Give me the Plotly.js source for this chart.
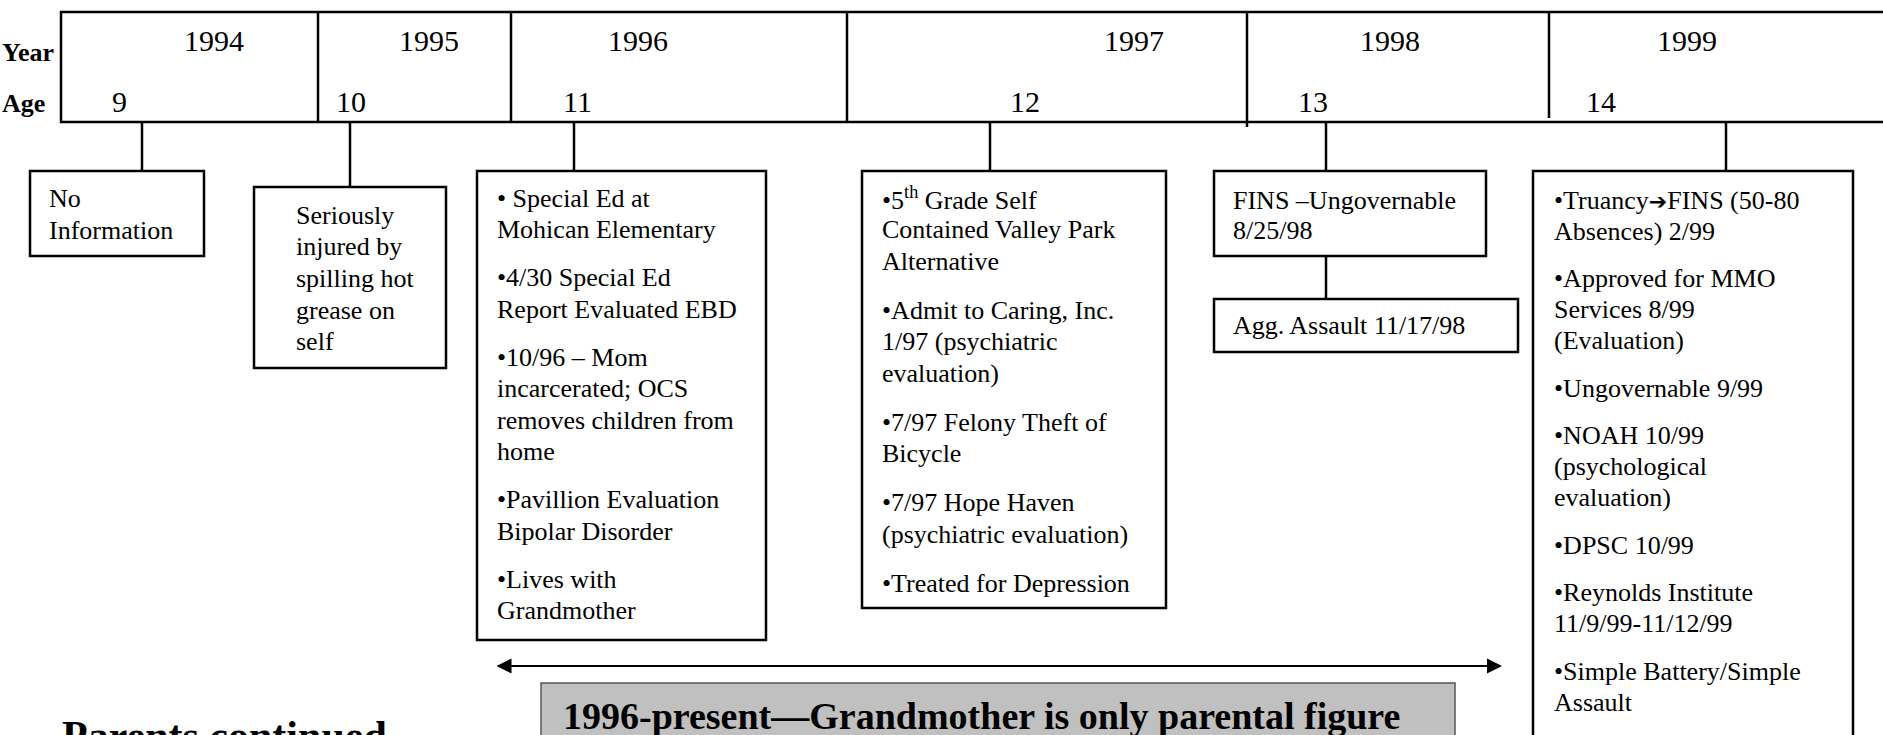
<!DOCTYPE html>
<html><head><meta charset="utf-8">
<script src="https://cdn.plot.ly/plotly-3.0.1.min.js"></script>
<style>html,body{margin:0;padding:0;background:#fff;overflow:hidden}#chart{width:1883px;height:735px}</style>
</head><body><div id="chart"></div>
<script>
// ---------------- DATA ----------------
const rowLabels = ['Year', 'Age'];
const years = ['1994', '1995', '1996', '1997', '1998', '1999'];
const ages = ['9', '10', '11', '12', '13', '14'];

const events1994 = [['No', 'Information']];
const events1995 = [['Seriously', 'injured by', 'spilling hot', 'grease on', 'self']];
const events1996 = [
  ['• Special Ed at', 'Mohican Elementary'],
  ['•4/30 Special Ed', 'Report Evaluated EBD'],
  ['•10/96 – Mom', 'incarcerated; OCS', 'removes children from', 'home'],
  ['•Pavillion Evaluation', 'Bipolar Disorder'],
  ['•Lives with', 'Grandmother']
];
const events1997 = [
  ['•5<sup>th</sup> Grade Self', 'Contained Valley Park', 'Alternative'],
  ['•Admit to Caring, Inc.', '1/97 (psychiatric', 'evaluation)'],
  ['•7/97 Felony Theft of', 'Bicycle'],
  ['•7/97 Hope Haven', '(psychiatric evaluation)'],
  ['•Treated for Depression']
];
const events1998a = [['FINS –Ungovernable', '8/25/98']];
const events1998b = [['Agg. Assault 11/17/98']];
const events1999 = [
  ['•Truancy<span style="font-family:DejaVu Sans;font-size:22px">➔</span>FINS (50-80', 'Absences) 2/99'],
  ['•Approved for MMO', 'Services 8/99', '(Evaluation)'],
  ['•Ungovernable 9/99'],
  ['•NOAH 10/99', '(psychological', 'evaluation)'],
  ['•DPSC 10/99'],
  ['•Reynolds Institute', '11/9/99-11/12/99'],
  ['•Simple Battery/Simple', 'Assault']
];
const spanLabel = '1996-present—Grandmother is only parental figure';
const footerLabel = 'Parents continued';

// ---------------- LAYOUT GEOMETRY (pixels) ----------------
const W = 1883, H = 735;
const FONT = '"Liberation Serif", "Times New Roman", Times, serif';
const LW = 2.5;
const geo = {
  bar: {x0: 61, x1: 1910, y0: 12, y1: 122},
  dividers: [318, 511, 847, 1247, 1549],
  dividerEnd: [122, 122, 122, 127, 118],
  yearX: [214, 429, 638, 1134, 1390, 1687], yearY: 40,
  ageX: [119, 351, 577, 1025, 1313, 1601], ageY: 101,
  rowLabelX: 1, rowLabelY: [52, 103],
  boxes: [
    {ev: events1994,  x0: 30,   x1: 204,  y0: 171, y1: 256, cx: 142,  cy0: 122, tx: 48,   ty: 198, step: 32,   gap: 16},
    {ev: events1995,  x0: 254,  x1: 446,  y0: 187, y1: 368, cx: 350,  cy0: 122, tx: 295,  ty: 215, step: 31.7, gap: 16},
    {ev: events1996,  x0: 477,  x1: 766,  y0: 171, y1: 640, cx: 574,  cy0: 122, tx: 496,  ty: 198, step: 31.5, gap: 16.5},
    {ev: events1997,  x0: 862,  x1: 1166, y0: 171, y1: 608, cx: 990,  cy0: 122, tx: 881,  ty: 198, step: 31.5, gap: 17.5},
    {ev: events1998a, x0: 1214, x1: 1486, y0: 171, y1: 256, cx: 1326, cy0: 122, tx: 1232, ty: 200, step: 30,   gap: 16},
    {ev: events1998b, x0: 1214, x1: 1518, y0: 299, y1: 352, cx: 1326, cy0: 256, tx: 1232, ty: 325, step: 30,   gap: 16},
    {ev: events1999,  x0: 1533, x1: 1853, y0: 171, y1: 780, cx: 1726, cy0: 122, tx: 1553, ty: 200, step: 31,   gap: 16.5}
  ],
  arrow: {x0: 495, x1: 1502, y: 666},
  span: {x0: 541, x1: 1455, y0: 683, y1: 800, tx: 561, ty: 716},
  footer: {x: 60, y: 711}
};

const shapes = [];
const annotations = [];
const bodyFont = {family: FONT, size: 26, color: '#000'};

// top bar
shapes.push({type: 'rect', xref: 'x', yref: 'y', x0: geo.bar.x0, x1: geo.bar.x1, y0: geo.bar.y0, y1: geo.bar.y1,
  line: {color: '#000', width: LW}, fillcolor: 'rgba(0,0,0,0)'});
geo.dividers.forEach((d, i) => shapes.push({type: 'line', xref: 'x', yref: 'y', x0: d, x1: d, y0: geo.bar.y0, y1: geo.dividerEnd[i],
  line: {color: '#000', width: LW}}));

rowLabels.forEach((t, i) => annotations.push({x: geo.rowLabelX, y: geo.rowLabelY[i], xref: 'x', yref: 'y',
  text: '<b>' + t + '</b>', showarrow: false, xanchor: 'left', yanchor: 'middle',
  font: {family: FONT, size: 26, color: '#000'}, borderpad: 0}));
years.forEach((t, i) => annotations.push({x: geo.yearX[i], y: geo.yearY, xref: 'x', yref: 'y', text: t,
  showarrow: false, xanchor: 'center', yanchor: 'middle', font: {family: FONT, size: 30, color: '#000'}}));
ages.forEach((t, i) => annotations.push({x: geo.ageX[i], y: geo.ageY, xref: 'x', yref: 'y', text: t,
  showarrow: false, xanchor: 'center', yanchor: 'middle', font: {family: FONT, size: 30, color: '#000'}}));

// event boxes
geo.boxes.forEach(b => {
  shapes.push({type: 'line', xref: 'x', yref: 'y', x0: b.cx, x1: b.cx, y0: b.cy0, y1: b.y0, line: {color: '#000', width: LW}});
  shapes.push({type: 'rect', xref: 'x', yref: 'y', x0: b.x0, x1: b.x1, y0: b.y0, y1: b.y1,
    line: {color: '#000', width: LW}, fillcolor: 'rgba(0,0,0,0)'});
  let y = b.ty;
  b.ev.forEach((para, pi) => {
    if (pi > 0) y += b.gap;
    para.forEach(line => {
      annotations.push({x: b.tx, y: y, xref: 'x', yref: 'y', text: line, showarrow: false,
        xanchor: 'left', yanchor: 'middle', font: bodyFont, borderpad: 0});
      y += b.step;
    });
  });
});

// double arrow
annotations.push({x: geo.arrow.x1, y: geo.arrow.y, ax: geo.arrow.x0, ay: geo.arrow.y, xref: 'x', yref: 'y',
  axref: 'x', ayref: 'y', text: '', showarrow: true, arrowside: 'end+start', arrowhead: 2, startarrowhead: 2,
  arrowsize: 1.5, startarrowsize: 1.5, arrowwidth: 2, arrowcolor: '#000', standoff: 0, startstandoff: 0});

// grey span box
shapes.push({type: 'rect', xref: 'x', yref: 'y', x0: geo.span.x0, x1: geo.span.x1, y0: geo.span.y0, y1: geo.span.y1,
  line: {color: '#555', width: 1.5}, fillcolor: '#c0c0c0'});
annotations.push({x: geo.span.tx, y: geo.span.ty, xref: 'x', yref: 'y', text: '<b>' + spanLabel + '</b>',
  showarrow: false, xanchor: 'left', yanchor: 'middle', font: {family: FONT, size: 38, color: '#000'}});

annotations.push({x: geo.footer.x, y: geo.footer.y, xref: 'x', yref: 'y', text: '<b>' + footerLabel + '</b>',
  showarrow: false, xanchor: 'left', yanchor: 'top', font: {family: FONT, size: 42, color: '#000'}});

const layout = {
  width: W, height: H,
  margin: {l: 0, r: 0, t: 0, b: 0, pad: 0},
  paper_bgcolor: '#fff', plot_bgcolor: '#fff',
  showlegend: false,
  xaxis: {range: [0, W], visible: false, fixedrange: true},
  yaxis: {range: [H, 0], visible: false, fixedrange: true},
  shapes: shapes,
  annotations: annotations
};

Plotly.newPlot('chart', [], layout, {staticPlot: true, displayModeBar: false});
</script>
</body></html>
